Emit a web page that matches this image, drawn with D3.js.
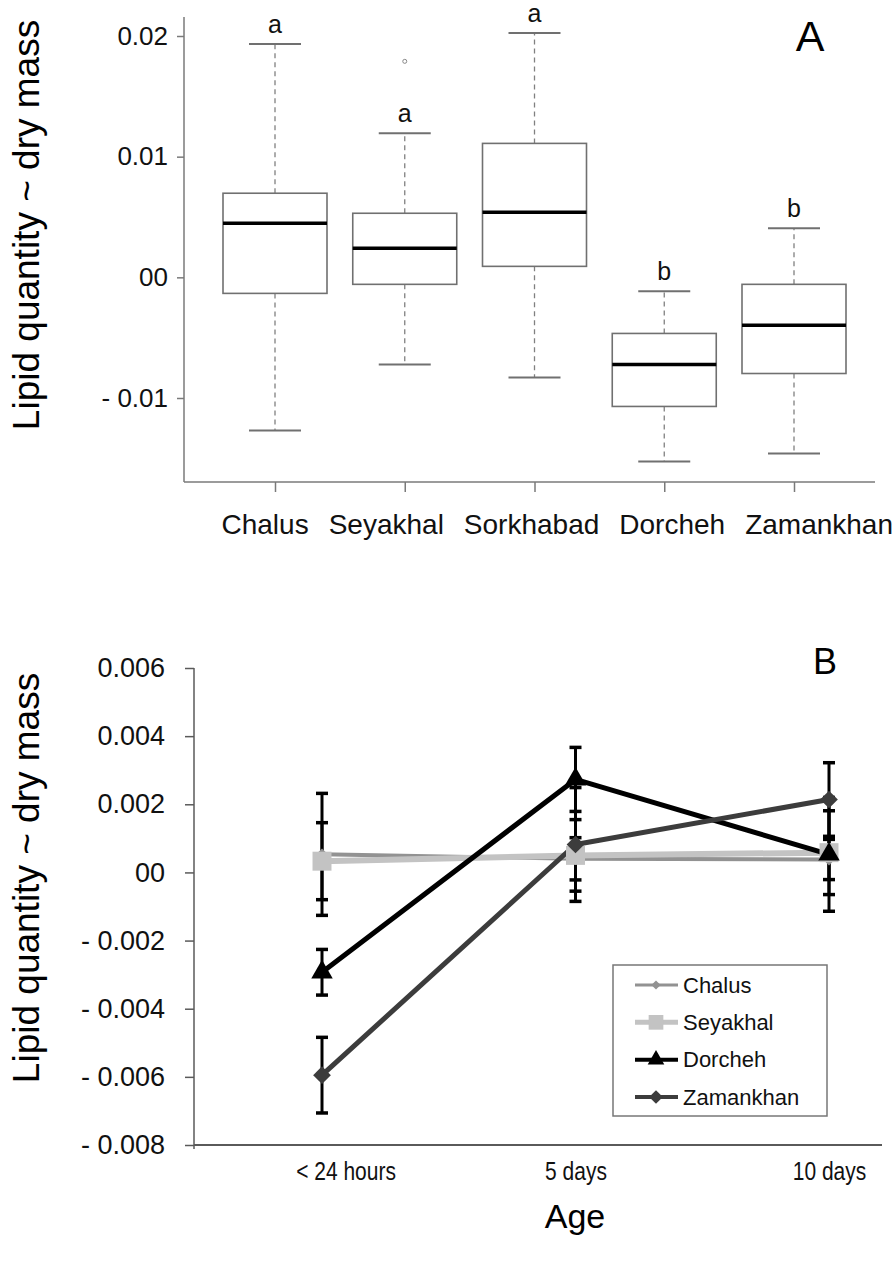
<!DOCTYPE html>
<html><head><meta charset="utf-8">
<script src="https://cdn.jsdelivr.net/npm/d3@7/dist/d3.min.js"></script>
<style>body{margin:0;background:#fff}svg{display:block;font-family:"Liberation Sans",Arial,sans-serif}</style>
</head><body>
<svg id="c" width="896" height="1261"></svg>
<script>
// ---------- Panel A data (box plots) ----------
const sites = ["Chalus","Seyakhal","Sorkhabad","Dorcheh","Zamankhan"];
const whiskerLow  = [-0.0127, -0.00722, -0.0083, -0.01527, -0.0146];
const boxLow      = [-0.00133, -0.00058, 0.00091, -0.0107, -0.00797];
const medians     = [0.00448, 0.00241, 0.0054, -0.00722, -0.00398];
const boxHigh     = [0.00697, 0.00531, 0.0111, -0.00465, -0.00058];
const whiskerHigh = [0.01934, 0.01195, 0.02025, -0.00116, 0.00407];
const outliers    = [[], [0.0179], [], [], []];
const groupLetters = ["a","a","a","b","b"];
const tickValsA   = [-0.01, 0, 0.01, 0.02];
const tickLabelsA = ["- 0.01", "00", "0.01", "0.02"];

// ---------- Panel B data (means ± error) ----------
const ages = ["< 24 hours", "5 days", "10 days"];
const seriesNames = ["Chalus","Seyakhal","Dorcheh","Zamankhan"];
const chalusMean    = [0.00053, 0.00040, 0.00038];
const chalusErr     = [0.00179, 0.00062, 0.00059];
const seyakhalMean  = [0.00033, 0.00050, 0.00058];
const seyakhalErr   = [0.00113, 0.00105, 0.00123];
const dorchehMean   = [-0.00293, 0.00273, 0.00053];
const dorchehErr    = [0.00067, 0.00094, 0.00167];
const zamankhanMean = [-0.00595, 0.00082, 0.00214];
const zamankhanErr  = [0.00111, 0.00167, 0.00108];
const tickValsB   = [-0.008,-0.006,-0.004,-0.002,0,0.002,0.004,0.006];
const tickLabelsB = ["- 0.008","- 0.006","- 0.004","- 0.002","00","0.002","0.004","0.006"];

const svg = d3.select("#c");

// ================= Panel A =================
const yA = d3.scaleLinear().domain([-0.01, 0.02]).range([398, 36]);
const xA = d3.scalePoint().domain(sites).range([275, 794]);
const gA = svg.append("g");
const axisCol = "#7a7a7a";

const yAxisA = d3.axisLeft(yA).tickValues(tickValsA).tickSize(7).tickPadding(9)
  .tickFormat((d,i)=>tickLabelsA[i]);
const ya = gA.append("g").attr("transform","translate(184,0)").call(yAxisA);
ya.select(".domain").remove();
ya.selectAll(".tick line").attr("stroke",axisCol).attr("stroke-width",1.5);
ya.selectAll(".tick text").attr("font-size",26).attr("fill","#111").attr("font-family","Liberation Sans, Arial");
gA.append("line").attr("x1",184).attr("x2",184).attr("y1",17).attr("y2",482).attr("stroke",axisCol).attr("stroke-width",1.5);

// x axis (ticks at categories; labels laid out as one spaced line of text, as in the original)
const xAxisA = d3.axisBottom(xA).tickSize(10).tickPadding(22);
const xa = gA.append("g").attr("transform","translate(0,482)").call(xAxisA);
xa.select(".domain").remove();
xa.selectAll(".tick line").attr("stroke",axisCol).attr("stroke-width",1.5);
xa.selectAll(".tick text").attr("font-size",28).attr("fill","#111").attr("font-family","Liberation Sans, Arial")
  .attr("text-anchor","start");
{
  let cursor = 221;
  xa.selectAll(".tick").each(function(d){
    const t = d3.select(this).select("text");
    const w = t.node().getComputedTextLength();
    t.attr("x", cursor - xA(d));
    cursor += w + 20;
  });
}
gA.append("line").attr("x1",184).attr("x2",875).attr("y1",482).attr("y2",482).attr("stroke",axisCol).attr("stroke-width",1.5);

const boxW = 104, capW = 52;
sites.forEach((s,i)=>{
  const cx = xA(s);
  const g = gA.append("g");
  g.append("line").attr("x1",cx).attr("x2",cx).attr("y1",yA(boxHigh[i])).attr("y2",yA(whiskerHigh[i]))
    .attr("stroke","#808080").attr("stroke-width",1.3).attr("stroke-dasharray","5,4");
  g.append("line").attr("x1",cx).attr("x2",cx).attr("y1",yA(boxLow[i])).attr("y2",yA(whiskerLow[i]))
    .attr("stroke","#808080").attr("stroke-width",1.3).attr("stroke-dasharray","5,4");
  [whiskerHigh[i], whiskerLow[i]].forEach(v=>{
    g.append("line").attr("x1",cx-capW/2).attr("x2",cx+capW/2).attr("y1",yA(v)).attr("y2",yA(v))
      .attr("stroke","#707070").attr("stroke-width",2);
  });
  g.append("rect").attr("x",cx-boxW/2).attr("width",boxW)
    .attr("y",yA(boxHigh[i])).attr("height",yA(boxLow[i])-yA(boxHigh[i]))
    .attr("fill","#fff").attr("stroke","#707070").attr("stroke-width",1.6);
  g.append("line").attr("x1",cx-boxW/2).attr("x2",cx+boxW/2).attr("y1",yA(medians[i])).attr("y2",yA(medians[i]))
    .attr("stroke","#000").attr("stroke-width",3.5);
  outliers[i].forEach(v=>{
    g.append("circle").attr("cx",cx).attr("cy",yA(v)).attr("r",2).attr("fill","none").attr("stroke","#888").attr("stroke-width",1);
  });
  g.append("text").attr("x",cx).attr("y",yA(whiskerHigh[i])-11).attr("text-anchor","middle")
    .attr("font-size",25).attr("fill","#111").text(groupLetters[i]);
});
gA.append("text").attr("x",810).attr("y",51).attr("text-anchor","middle").attr("font-size",43).attr("fill","#000").text("A");
gA.append("text").attr("transform","translate(39,225) rotate(-90)").attr("text-anchor","middle")
  .attr("font-size",37).attr("fill","#000").text("Lipid quantity ~ dry mass");

// ================= Panel B =================
const yB = d3.scaleLinear().domain([-0.008, 0.006]).range([1145, 668]);
const xB = d3.scalePoint().domain(ages).range([322, 829]);
const gB = svg.append("g");
const axisColB = "#5a5a5a";

const yAxisB = d3.axisLeft(yB).tickValues(tickValsB).tickSize(9).tickPadding(20)
  .tickFormat((d,i)=>tickLabelsB[i]);
const yb = gB.append("g").attr("transform","translate(194,0)").call(yAxisB);
yb.select(".domain").remove();
yb.selectAll(".tick line").attr("stroke",axisColB).attr("stroke-width",1.5);
yb.selectAll(".tick text").attr("font-size",27).attr("fill","#111").attr("font-family","Liberation Sans, Arial");
gB.append("line").attr("x1",194).attr("x2",194).attr("y1",668).attr("y2",1149).attr("stroke",axisColB).attr("stroke-width",1.5);

const xAxisB = d3.axisBottom(xB).tickSize(0).tickPadding(17);
const xb = gB.append("g").attr("transform","translate(0,1145)").call(xAxisB);
xb.select(".domain").remove();
xb.selectAll(".tick text").attr("font-size",25).attr("fill","#111").attr("font-family","Liberation Sans, Arial")
  .attr("transform","scale(0.84,1)");
xb.selectAll(".tick").filter((d,i)=>i===0).select("text").attr("dx",28);
gB.append("line").attr("x1",194).attr("x2",882).attr("y1",1145).attr("y2",1145).attr("stroke",axisColB).attr("stroke-width",2);

const series = [
  {name:"Chalus",    mean:chalusMean,    err:chalusErr,    color:"#929292", lw:4,   marker:"diamond", ms:90},
  {name:"Seyakhal",  mean:seyakhalMean,  err:seyakhalErr,  color:"#c3c3c3", lw:6,   marker:"square",  ms:360},
  {name:"Dorcheh",   mean:dorchehMean,   err:dorchehErr,   color:"#000000", lw:5,   marker:"triangle",ms:200},
  {name:"Zamankhan", mean:zamankhanMean, err:zamankhanErr, color:"#3c3c3c", lw:5,   marker:"diamond", ms:200}
];
const symType = {diamond:d3.symbolDiamond2, square:d3.symbolSquare, triangle:d3.symbolTriangle};
const line = d3.line().x((d,i)=>xB(ages[i])).y(d=>yB(d));

series.forEach(s=>{
  gB.append("path").datum(s.mean).attr("d",line).attr("fill","none")
    .attr("stroke",s.color).attr("stroke-width",s.lw).attr("stroke-linejoin","round");
});
series.forEach(s=>{
  s.mean.forEach((m,i)=>{
    const cx = xB(ages[i]);
    const y1 = yB(m + s.err[i]), y2 = yB(m - s.err[i]);
    gB.append("line").attr("x1",cx).attr("x2",cx).attr("y1",y1).attr("y2",y2).attr("stroke","#000").attr("stroke-width",3);
    [y1,y2].forEach(y=>gB.append("line").attr("x1",cx-6).attr("x2",cx+6).attr("y1",y).attr("y2",y)
      .attr("stroke","#000").attr("stroke-width",3.5));
  });
});
series.forEach(s=>{
  s.mean.forEach((m,i)=>{
    gB.append("path").attr("d",d3.symbol().type(symType[s.marker]).size(s.ms)())
      .attr("transform",`translate(${xB(ages[i])},${yB(m)})`).attr("fill",s.color);
  });
});

// legend
const lg = gB.append("g");
lg.append("rect").attr("x",613).attr("y",965).attr("width",214).attr("height",151)
  .attr("fill","#fff").attr("stroke","#777").attr("stroke-width",1.5);
const legY = d3.scalePoint().domain(seriesNames).range([985,1097]);
series.forEach(s=>{
  const y = legY(s.name);
  lg.append("line").attr("x1",635).attr("x2",678).attr("y1",y).attr("y2",y).attr("stroke",s.color).attr("stroke-width",s.lw-1);
  lg.append("path").attr("d",d3.symbol().type(symType[s.marker]).size(s.ms*0.6)())
    .attr("transform",`translate(656,${y})`).attr("fill",s.color);
  lg.append("text").attr("x",683).attr("y",y).attr("dy","0.35em").attr("font-size",22).attr("fill","#111").text(s.name);
});

gB.append("text").attr("x",825).attr("y",674).attr("text-anchor","middle").attr("font-size",36).attr("fill","#000").text("B");
gB.append("text").attr("transform","translate(39,878) rotate(-90)").attr("text-anchor","middle")
  .attr("font-size",37).attr("fill","#000").text("Lipid quantity ~ dry mass");
gB.append("text").attr("x",575).attr("y",1228).attr("text-anchor","middle").attr("font-size",34).attr("fill","#000").text("Age");
</script>
</body></html>
